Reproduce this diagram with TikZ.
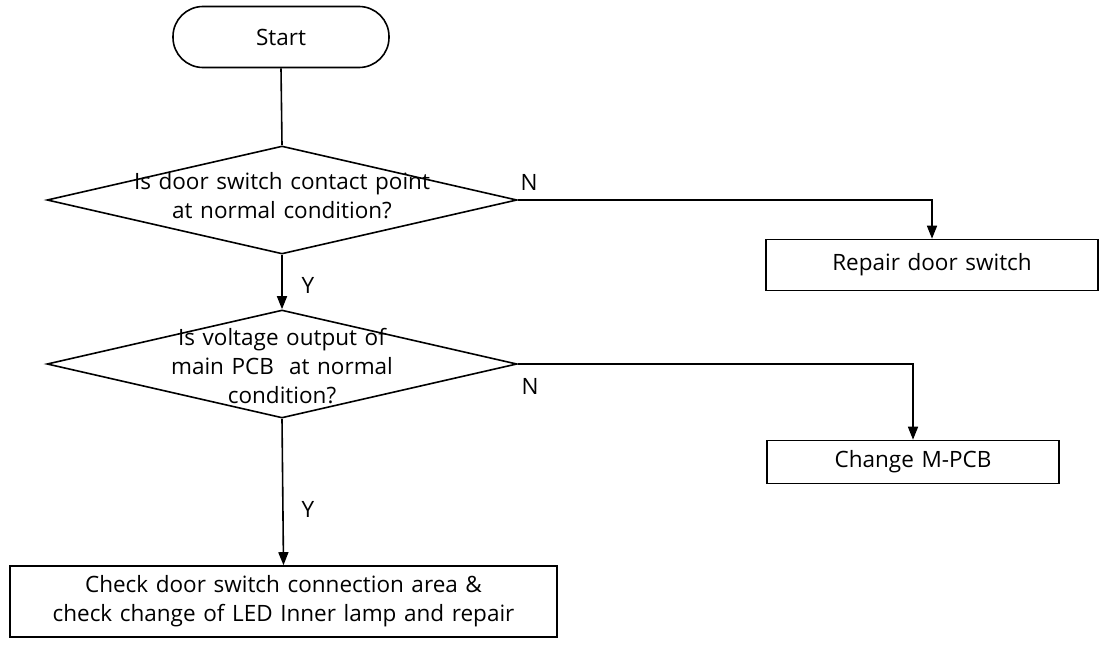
\documentclass[tikz,border=0pt]{standalone}
\usepackage{fontspec}
\setmainfont{Open Sans}[WordSpace=1.3]
\usetikzlibrary{shapes.geometric,arrows.meta}
\newcommand{\txtfont}{\fontsize{22.5}{29}\selectfont}
\begin{document}
\begin{tikzpicture}[x=1pt,y=-1pt,
  every node/.style={font=\txtfont, text=black},
  lbl/.style={inner sep=0pt, align=center},
  procbox/.style={draw, line width=1.6pt, rectangle, inner sep=0pt, align=center},
  decbox/.style={draw, diamond, inner sep=0pt, line width=1.6pt},
  termbox/.style={draw, line width=1.6pt, rectangle, rounded corners=30pt, inner sep=0pt},
  conn/.style={line width=1.6pt},
  arr/.style={line width=1.6pt, -{Triangle[length=13pt,width=10pt]}}
]
\useasboundingbox (0,0) rectangle (1100,645);

\node[termbox, minimum width=216pt, minimum height=61pt] (start) at (281,37) {Start};

\node[decbox, minimum width=470pt, minimum height=108pt] (d1) at (282,200) {};
\node[lbl] (t1) at (282,196) {Is door switch contact point\\at normal condition?};

\node[decbox, minimum width=470pt, minimum height=108pt] (d2) at (282,364) {};
\node[lbl] (t2) at (282,366) {Is voltage output of\\main PCB\ \ at normal\\condition?};

\node[procbox, minimum width=332pt, minimum height=51pt] (r1) at (932,265) {Repair door switch};
\node[procbox, minimum width=292pt, minimum height=43pt] (r2) at (913,462) {Change M-PCB};
\node[procbox, minimum width=547pt, minimum height=71pt] (r3) at (283.5,601.5) {Check door switch connection area \&\\check change of LED Inner lamp and repair};

\node[lbl] (n1) at (529,182) {N};
\node[lbl] (y1) at (308,285) {Y};
\node[lbl] (n2) at (530,386) {N};
\node[lbl] (y2) at (308,509) {Y};

\draw[conn] (start.south) -- (d1.north);
\draw[arr] (d1.south) -- (d2.north);
\draw[arr] (d1.east) -| (r1.north);
\draw[arr] (d2.east) -| (r2.north);
\draw[arr] (d2.south) -- (r3.north);
\end{tikzpicture}
\end{document}
